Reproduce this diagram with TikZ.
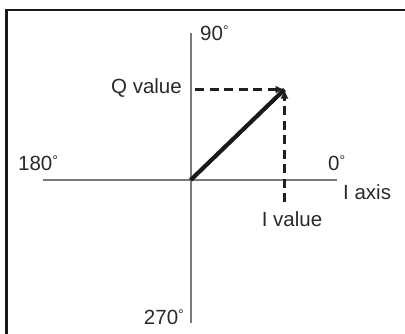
\documentclass[tikz,border=0pt]{standalone}
\usepackage{fontspec}
\setmainfont{Liberation Sans}
\usetikzlibrary{arrows.meta}
\definecolor{axisgray}{HTML}{7A7A7A}
\definecolor{textgray}{HTML}{2A2A2A}
\newcommand{\degsym}{{\fontsize{14}{14}\selectfont\raisebox{4.6pt}{°}}}
\begin{document}
\begin{tikzpicture}[x=1pt,y=-1pt,
  lbl/.style={inner sep=0pt,text=textgray,font=\fontsize{20.5}{24}\selectfont},
  axisline/.style={draw=axisgray,line width=1.6pt},
  vec/.style={draw=black!90,line width=4.2pt},
  proj/.style={draw=black!88,line width=2.6pt,dash pattern=on 9pt off 5.5pt,-{Latex[length=9pt,width=8pt]}},
  frameline/.style={draw=black!90,line width=2.6pt}]
\useasboundingbox (0,0) rectangle (405,333);
\fill[white] (0,0) rectangle (405,333);
\begin{scope}
\clip (0,0) rectangle (405,333);
\draw[frameline] (6.3,345) -- (6.3,10) -- (420,10);
\end{scope}
% axes
\coordinate (O) at (190.7,180);
\coordinate (top) at (190.7,33);
\coordinate (bot) at (190.7,323);
\coordinate (left) at (43,180);
\coordinate (right) at (337,180);
\coordinate (T) at (284.5,89.5);
\coordinate (qs) at (195,89.5);
\coordinate (is) at (284.5,202);
\draw[axisline] (top) -- (bot);
\draw[axisline] (left) -- (right);
% vector
\draw[vec] (O) -- (T);
% projections
\draw[proj] (qs) -- (T);
\draw[proj] (is) -- (T);
% labels
\node[lbl,anchor=west] (l90) at (200,33) {90\degsym};
\node[lbl,anchor=east] (lq) at (182,88.5) {Q value};
\node[lbl,anchor=west] (l180) at (18,163) {180\degsym};
\node[lbl,anchor=west] (l0) at (328,163) {0\degsym};
\node[lbl,anchor=west] (lax) at (343,192) {I axis};
\node[lbl] (liv) at (292,219) {I value};
\node[lbl,anchor=east] (l270) at (184,317) {270\degsym};
\end{tikzpicture}
\end{document}
